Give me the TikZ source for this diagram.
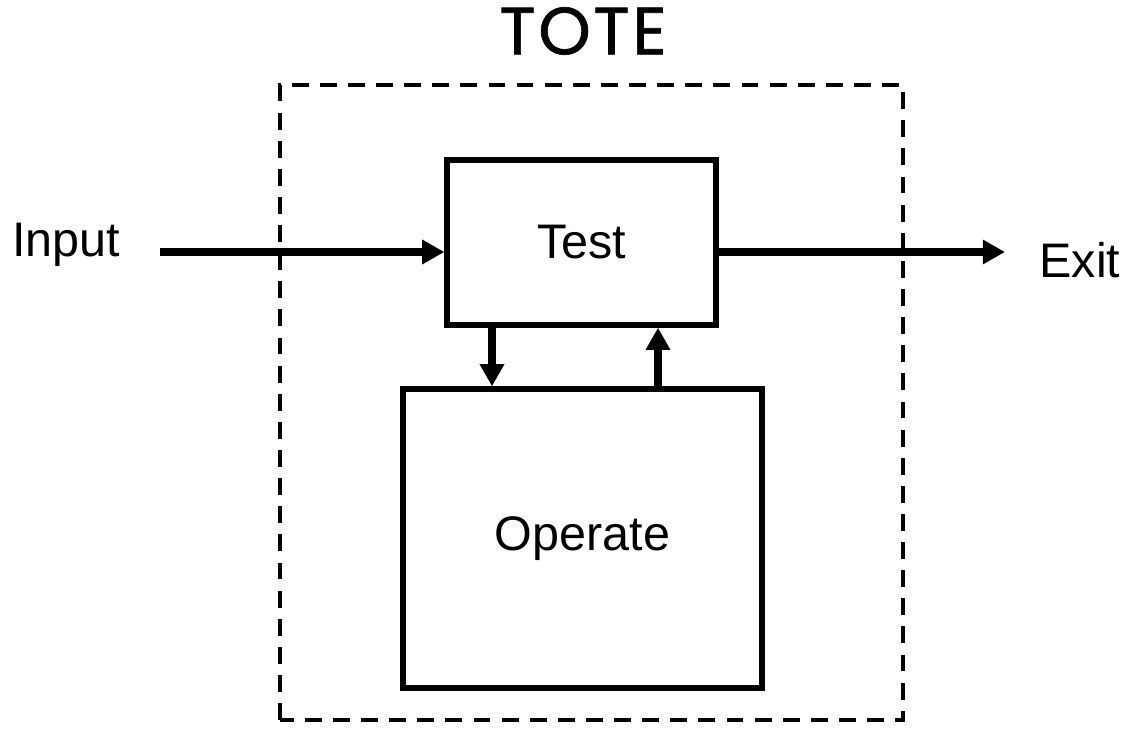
\documentclass[tikz,border=0pt]{standalone}
\usepackage{fontspec}
\setmainfont{Liberation Sans}
\newfontfamily\totefont[FakeBold=1.0,LetterSpace=4]{Poppins}
\usetikzlibrary{arrows.meta,positioning}

\begin{document}
\begin{tikzpicture}[
    box/.style={draw, line width=1.5pt, inner sep=0pt, font=\fontsize{13.8}{16}\selectfont},
    arr/.style={line width=2pt, -{Triangle[length=6.3pt,width=6.6pt]}},
    lbl/.style={font=\fontsize{13.8}{16}\selectfont}
]
    \useasboundingbox (0,0) rectangle (11.26,7.53);

    % outer dashed frame and title
    \draw[line width=1.1pt, dash pattern=on 4.8pt off 3.2pt] (2.80,0.33) rectangle (9.03,6.68);
    \node (tote) at (5.83,7.22) {\totefont\fontsize{19}{21}\selectfont TOTE};

    % boxes
    \node[box, minimum width=2.69cm, minimum height=1.65cm] (test) at (5.815,5.105) {Test};
    \node[box, minimum width=3.59cm, minimum height=2.99cm] (operate) at (5.825,2.145) {Operate};

    % input and exit
    \coordinate (in) at (1.60,5.01);
    \coordinate (out) at (10.05,5.01);
    \node[lbl] (input) at (0.66,5.08) {Input};
    \node[lbl] (exit) at (10.80,4.93) {Exit};
    \draw[arr] (in) -- (in -| test.west);
    \draw[arr] (test.east |- out) -- (out);

    % loop between test and operate
    \draw[arr] ([xshift=-0.895cm]test.south) -- ([xshift=-0.895cm]test.south |- operate.north);
    \draw[arr] ([xshift=0.765cm]test.south |- operate.north) -- ([xshift=0.765cm]test.south);
\end{tikzpicture}
\end{document}
